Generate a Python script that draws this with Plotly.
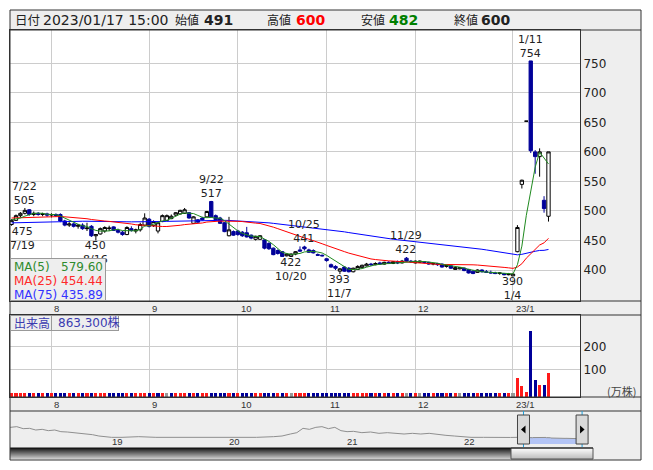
import pandas as pd
import plotly.graph_objects as go

W, H = 653, 470


def px(x):
    return x / W


def py(y):
    return 1 - y / H


FONT = "DejaVu Sans, Noto Sans CJK JP, sans-serif"
JP_FONT = "Noto Sans CJK JP, DejaVu Sans, sans-serif"
SMALL_FONT = "Liberation Sans, Arial, sans-serif"

# ---------------- data ----------------
HOLIDAYS = ['2022-04-29', '2022-05-03', '2022-05-04', '2022-05-05', '2022-07-18',
            '2022-08-11', '2022-09-19', '2022-09-23', '2022-10-10', '2022-11-03',
            '2022-11-23', '2023-01-02', '2023-01-03', '2023-01-09']


def trading_days(a, b):
    return [d for d in pd.bdate_range(a, b) if d.strftime('%Y-%m-%d') not in HOLIDAYS]


DATES = trading_days('2022-07-19', '2023-01-17')        # displayed window
PRE_DATES = trading_days('2022-03-29', '2022-07-15')    # sessions before the window (feed the averages)

OPEN = [477, 484, 492, 496, 502, 494, 496, 494, 495,
        493, 494, 494, 483, 476, 478, 474, 476, 470, 474, 458, 461, 466, 470, 473, 467, 464, 460, 470, 466, 468, 476,
        486, 475, 466, 482, 484, 487, 493, 495, 496, 497, 479, 485, 488, 490, 516, 492, 488, 480, 458, 465,
        466, 464, 463, 459, 452, 452, 451, 445, 437, 433, 431, 424, 423, 427, 434, 439, 434, 433, 426, 425,
        419, 409, 406, 398, 405, 403, 397, 401, 404, 407, 410, 409, 412, 410, 413, 411, 414, 412, 420, 415,
        412, 413, 414, 413, 410, 411, 410, 406, 407, 401, 402, 403, 401, 398, 396, 400, 397, 396, 395, 394, 394, 392,
        390, 431, 545, 652, 754, 600, 592, 518, 491]
HIGH = [486, 494, 498, 505, 503, 499, 498, 497, 497,
        496, 496, 496, 485, 481, 480, 478, 479, 480, 476, 461, 472, 474, 475, 474, 470, 466, 474, 474, 470, 480, 496,
        488, 484, 481, 494, 494, 494, 498, 502, 505, 498, 491, 486, 490, 500, 517, 494, 490, 481, 490, 467,
        468, 466, 473, 460, 458, 459, 452, 447, 438, 435, 432, 428, 428, 432, 440, 441, 436, 435, 428, 426,
        420, 411, 408, 403, 406, 405, 404, 408, 409, 412, 412, 413, 414, 414, 415, 415, 416, 417, 422, 417,
        416, 416, 415, 414, 412, 412, 411, 409, 408, 405, 405, 404, 402, 400, 401, 401, 400, 399, 397, 396, 395, 395,
        394, 476, 553, 652, 754, 603, 606, 525, 600]
LOW = [475, 483, 489, 494, 492, 491, 492, 491, 490,
       489, 490, 481, 474, 473, 472, 470, 468, 466, 456, 450, 460, 463, 466, 466, 462, 458, 459, 465, 462, 465, 474,
       472, 473, 462, 481, 483, 486, 491, 494, 495, 487, 478, 480, 484, 489, 489, 484, 478, 464, 457, 458,
       458, 456, 455, 452, 450, 451, 435, 434, 425, 426, 423, 423, 422, 425, 431, 433, 429, 428, 424, 423,
       414, 404, 400, 393, 397, 396, 396, 400, 403, 406, 407, 408, 409, 409, 410, 410, 410, 411, 414, 412,
       411, 412, 411, 409, 408, 407, 404, 404, 402, 400, 401, 398, 394, 393, 395, 396, 395, 394, 393, 392, 391, 391,
       390, 430, 538, 652, 598, 563, 558, 497, 482]
CLOSE = [484, 492, 496, 501, 494, 496, 494, 495, 493,
         494, 492, 483, 476, 478, 474, 476, 470, 471, 458, 460, 470, 472, 471, 467, 464, 460, 472, 467, 468, 477, 488,
         474, 482, 480, 492, 492, 491, 497, 501, 502, 488, 490, 481, 485, 499, 490, 485, 479, 465, 468, 459,
         460, 458, 456, 454, 457, 458, 437, 436, 426, 428, 423, 427, 427, 431, 432, 436, 430, 429, 425, 424,
         416, 405, 403, 402, 398, 397, 403, 406, 408, 410, 409, 411, 410, 413, 411, 414, 412, 415, 415, 414,
         415, 415, 413, 410, 411, 409, 405, 408, 403, 404, 404, 399, 395, 394, 400, 397, 396, 395, 394, 395, 392, 393,
         393, 472, 552, 652, 602, 592, 600, 504, 600]
# closes of the sessions before the window (level read from the navigator strip)
PRE_CLOSE = [478, 476, 479, 477, 475, 474, 476, 478, 475, 473, 472, 474, 476, 475, 473, 471, 472, 474, 476, 477,
             475, 473, 474,
             472, 471, 473, 475, 474, 472, 470, 471, 473, 474, 476, 477, 475, 476, 478, 477, 479, 478, 480,
             479, 478, 480, 481, 479, 478, 480, 482,
             484, 486, 485, 487, 489, 488, 486, 487, 489, 490, 491, 489, 488, 490, 492, 491, 489, 488, 490, 491,
             489, 487, 486, 485, 483]
# volume in 万株
VOLUME = [0.6, 0.9, 0.5, 1.0, 0.7, 0.4, 0.6, 0.5, 0.8,
          0.5, 0.7, 1.1, 0.9, 0.6, 0.5, 0.4, 0.7, 0.6, 0.9, 1.2, 0.8, 0.6, 0.5, 0.7, 0.6, 0.5, 0.9, 0.6, 0.4, 0.7, 1.0,
          0.8, 0.6, 0.9, 0.7, 0.5, 0.6, 0.7, 0.8, 0.6, 0.7, 0.9, 0.5, 0.4, 0.8, 1.3, 0.7, 0.6, 0.8, 0.7, 0.5,
          0.6, 0.5, 0.7, 0.6, 0.5, 0.4, 0.9, 0.7, 0.8, 0.6, 0.7, 0.5, 0.6, 0.7, 0.8, 0.9, 0.6, 0.5, 0.4, 0.5,
          0.6, 0.8, 0.7, 0.9, 0.6, 0.5, 0.6, 0.7, 0.5, 0.4, 0.5, 0.6, 0.5, 0.4, 0.5, 0.6, 0.5, 0.4, 0.8, 0.5,
          0.6, 0.5, 0.4, 0.5, 0.6, 0.5, 0.4, 0.6, 0.5, 0.5, 0.4, 0.6, 0.7, 0.5, 0.6, 0.5, 0.4, 0.5, 0.4, 0.5, 0.5, 0.4,
          1.2, 66.5, 30.0, 4.3, 270.0, 56.5, 35.0, 35.0, 86.33]

assert len(DATES) == len(OPEN) == len(HIGH) == len(LOW) == len(CLOSE) == len(VOLUME), \
    (len(DATES), len(OPEN), len(HIGH), len(LOW), len(CLOSE), len(VOLUME))
assert len(PRE_DATES) == len(PRE_CLOSE), (len(PRE_DATES), len(PRE_CLOSE))

MA_PERIODS = [5, 25, 75]
MA_COLORS = ['#1f8a1f', '#ff0000', '#0000ff']
MA_TEXT_COLORS = ['#2e8b2e', '#ff2a2a', '#3333ff']
MA_LAST = ['579.60', '454.44', '435.89']

PEAK_LABELS = [('2022-07-22', 'high'), ('2022-07-19', 'low'), ('2022-08-16', 'low'),
               ('2022-09-22', 'high'), ('2022-10-20', 'low'), ('2022-10-25', 'high'),
               ('2022-11-07', 'low'), ('2022-11-29', 'high'), ('2023-01-04', 'low'),
               ('2023-01-11', 'high')]

HEADER_DATE = '2023/01/17 15:00'
HEADER_FIELDS = [('始値', '491', '#222222'), ('高値', '600', '#ff0000'),
                 ('安値', '482', '#008000'), ('終値', '600', '#222222')]
VOLUME_TEXT = '863,300株'

# long-term history shown in the navigator strip
NAV_DATES = ['2018-02-24', '2018-03-08', '2018-03-28', '2018-04-17', '2018-05-07', '2018-05-26',
             '2018-06-15', '2018-07-04', '2018-07-24', '2018-08-12', '2018-09-01', '2018-09-21',
             '2018-10-10', '2018-10-30', '2018-11-18', '2018-12-08', '2018-12-27', '2019-01-16',
             '2019-02-18', '2019-04-11', '2019-06-03', '2019-07-25', '2019-09-15', '2019-11-06',
             '2019-12-28', '2020-02-18', '2020-04-11', '2020-06-03', '2020-06-29', '2020-07-25',
             '2020-08-14', '2020-09-02', '2020-09-22', '2020-10-12', '2020-10-31', '2020-11-20',
             '2020-12-10', '2020-12-29', '2021-01-17', '2021-02-06', '2021-03-04', '2021-03-31',
             '2021-04-26', '2021-05-22', '2021-06-17', '2021-07-13', '2021-08-08', '2021-09-03',
             '2021-09-29', '2021-10-25', '2021-11-20', '2021-12-16', '2022-01-11', '2022-02-06',
             '2022-03-17']
NAV_VALUES = [1316, 1218, 1267, 1121, 1145, 1023, 1072, 975, 1023, 902, 877, 828,
              780, 780, 682, 585, 536, 487, 487, 536, 487, 487, 487, 487,
              487, 439, 487, 536, 585, 731, 828, 1145, 1072, 1218, 1267, 1121,
              1218, 975, 902, 926, 828, 877, 780, 828, 780, 731, 780, 731,
              780, 682, 634, 585, 536, 487, 487]
YEAR_LABELS = [2019, 2020, 2021, 2022]

# ---------------- styling constants ----------------
UP_VOL = '#ff1a1a'
DOWN_VOL = '#000099'
FLAT_VOL = '#999999'
NAVY = '#000099'
GRID = '#cccccc'
EDGE = '#333333'
PANEL = '#eeeeee'

X_RANGE = [-0.35, 128.1]
PRICE_RANGE = [347.5, 806.4]
VOL_RANGE = [-17.4, 339.0]
NAV_RANGE_X = ['2018-03-07', '2023-07-19']
NAV_RANGE_Y = [-219, 2412]

idx = list(range(len(DATES)))
date_str = [d.strftime('%Y-%m-%d') for d in DATES]
pre_str = [d.strftime('%Y-%m-%d') for d in PRE_DATES]

month_idx, month_txt = [], []
for i, d in enumerate(DATES):
    if i > 0 and d.month != DATES[i - 1].month:
        month_idx.append(i)
        month_txt.append(f"{d.year % 100}/{d.month}" if d.month == 1 else str(d.month))

fig = go.Figure()

# price candles
fig.add_trace(go.Candlestick(
    x=idx, open=OPEN, high=HIGH, low=LOW, close=CLOSE,
    increasing=dict(line=dict(color='#000000', width=1), fillcolor='#ffffff'),
    decreasing=dict(line=dict(color=NAVY, width=1), fillcolor=NAVY),
    whiskerwidth=0, xaxis='x', yaxis='y', showlegend=False, hoverinfo='skip'))

all_close = pd.Series(PRE_CLOSE + CLOSE, dtype=float)
n_pre = len(PRE_CLOSE)
for n, col in sorted(zip(MA_PERIODS, MA_COLORS), key=lambda t: -t[0]):
    ma = all_close.rolling(n, min_periods=1).mean().iloc[n_pre:].tolist()
    fig.add_trace(go.Scatter(x=idx, y=ma, mode='lines',
                             line=dict(color=col, width=1), xaxis='x', yaxis='y',
                             showlegend=False, hoverinfo='skip'))

# volume
vol_colors = []
for i, c in enumerate(CLOSE):
    prev = CLOSE[i - 1] if i > 0 else PRE_CLOSE[-1]
    vol_colors.append(UP_VOL if c > prev else DOWN_VOL if c < prev else FLAT_VOL)
fig.add_trace(go.Bar(x=idx, y=[v - VOL_RANGE[0] for v in VOLUME], base=VOL_RANGE[0],
                     marker=dict(color=vol_colors, line=dict(width=0)), width=0.7,
                     xaxis='x2', yaxis='y2', showlegend=False, hoverinfo='skip'))

# navigator
fig.add_trace(go.Scatter(x=date_str, y=CLOSE, mode='lines', fill='tozeroy',
                         fillcolor='#b3c4f5', line=dict(width=0, color='#b3c4f5'),
                         xaxis='x3', yaxis='y3', showlegend=False, hoverinfo='skip'))
fig.add_trace(go.Scatter(x=NAV_DATES + pre_str + date_str, y=NAV_VALUES + PRE_CLOSE + CLOSE, mode='lines',
                         line=dict(color='#8f8f8f', width=1),
                         xaxis='x3', yaxis='y3', showlegend=False, hoverinfo='skip'))

# ---------------- shapes ----------------
shapes = []
shapes.append(dict(type='rect', xref='paper', yref='paper', x0=px(10), x1=px(641), y0=py(460), y1=py(10),
                   fillcolor=PANEL, line=dict(width=0), layer='below'))
for (a, b) in [(30, 301), (315, 397)]:
    shapes.append(dict(type='rect', xref='paper', yref='paper', x0=px(10), x1=px(580), y0=py(b), y1=py(a),
                       fillcolor='#ffffff', line=dict(width=0), layer='below'))
for yy in [30, 301, 315, 397, 411]:
    shapes.append(dict(type='line', xref='paper', yref='paper', x0=px(10), x1=px(641), y0=py(yy), y1=py(yy),
                       line=dict(color=EDGE, width=1), layer='above'))

# navigator selection lines and handles
for dstr in [date_str[0], date_str[-1]]:
    shapes.append(dict(type='line', xref='x3', yref='paper', x0=dstr, x1=dstr, y0=py(447), y1=py(411),
                       line=dict(color='#1ea0dc', width=1), layer='above'))
for k, dstr in enumerate([date_str[0], date_str[-1]]):
    shapes.append(dict(type='rect', xref='x3', yref='paper', xsizemode='pixel', xanchor=dstr,
                       x0=-6, x1=6, y0=py(444), y1=py(415), fillcolor='#d9d9d9',
                       line=dict(color='#444444', width=1), layer='above'))
    tri = 'M -2.5,0 L 2,4 L 2,-4 Z' if k == 0 else 'M 2.5,0 L -2,4 L -2,-4 Z'
    shapes.append(dict(type='path', xref='x3', yref='paper', xsizemode='pixel', ysizemode='pixel',
                       xanchor=dstr, yanchor=py(429.5), path=tri, fillcolor='#000000',
                       line=dict(width=0), layer='above'))

# scrollbar
for k in range(11):
    t = k / 10
    g = int(30 + t * (200 - 30))
    shapes.append(dict(type='rect', xref='paper', yref='paper', x0=px(10), x1=px(511),
                       y0=py(448 + k + 1), y1=py(448 + k), fillcolor=f'rgb({g},{g},{g})',
                       line=dict(width=0), layer='above'))
    g2 = int(252 - t * (252 - 190))
    shapes.append(dict(type='rect', xref='paper', yref='paper', x0=px(511), x1=px(593),
                       y0=py(448 + k + 1), y1=py(448 + k), fillcolor=f'rgb({g2},{g2},{g2})',
                       line=dict(width=0), layer='above'))
shapes.append(dict(type='rect', xref='paper', yref='paper', x0=px(511), x1=px(593), y0=py(459), y1=py(448),
                   line=dict(color='#555555', width=1), layer='above'))
shapes.append(dict(type='line', xref='paper', yref='paper', x0=px(10), x1=px(593), y0=py(448), y1=py(448),
                   line=dict(color='#111111', width=1), layer='above'))
# outer frame
shapes.append(dict(type='rect', xref='paper', yref='paper', x0=px(10), x1=px(641), y0=py(460), y1=py(10),
                   line=dict(color=EDGE, width=1), layer='above'))

# ---------------- annotations ----------------
ann = []


def text(x, y, s, size=12, color='#222222', family=FONT, xanchor='left', yanchor='middle', **kw):
    d = dict(x=x, y=y, xref='paper', yref='paper', text=s, showarrow=False, xanchor=xanchor,
             yanchor=yanchor, font=dict(size=size, color=color, family=family))
    d.update(kw)
    ann.append(d)


# header
text(px(12.5), py(20), '日付', size=12.5, family=JP_FONT)
text(px(41), py(20), HEADER_DATE, size=14)
head_x = [(173, 202), (265, 294), (359, 386.5), (451.5, 479.5)]
for (lab, val, col), (xl, xv) in zip(HEADER_FIELDS, head_x):
    text(px(xl), py(20), lab, size=12, family=JP_FONT)
    text(px(xv), py(20), f'<b>{val}</b>', size=14, color=col)

# month labels
for m, t in zip(month_idx, month_txt):
    for yy in (308, 404):
        ann.append(dict(x=m, y=py(yy), xref='x', yref='paper', text=t, showarrow=False,
                        xanchor='left', yanchor='middle', xshift=1,
                        font=dict(size=9.5, color='#333333', family=SMALL_FONT)))

# peak labels (date and price, two lines)
for dstr, kind in PEAK_LABELS:
    i = date_str.index(dstr)
    d = DATES[i]
    val = HIGH[i] if kind == 'high' else LOW[i]
    dtxt = f'{d.month}/{d.day}'
    xs = 11 if i == 0 else 0
    if kind == 'high':
        ann.append(dict(x=i, y=val, xref='x', yref='y', text=f'{dtxt}<br>{val}', showarrow=False,
                        xanchor='center', yanchor='bottom', yshift=0, xshift=xs, borderpad=0,
                        font=dict(size=11, color='#222222', family=FONT)))
    else:
        ann.append(dict(x=i, y=val, xref='x', yref='y', text=f'{val}<br>{dtxt}', showarrow=False,
                        xanchor='center', yanchor='top', yshift=2, xshift=xs, borderpad=0,
                        font=dict(size=11, color='#222222', family=FONT)))

# MA legend box
ann.append(dict(x=px(10), y=py(258), xref='paper', yref='paper', text=' ', showarrow=False,
                xanchor='left', yanchor='top', width=94, height=41, borderpad=0,
                bgcolor=PANEL, bordercolor='#999999', borderwidth=1))
for k, (n, col, val) in enumerate(zip(MA_PERIODS, MA_TEXT_COLORS, MA_LAST)):
    yy = 266.5 + 14 * k
    text(px(12), py(yy), f'MA({n})', size=12, color=col)
    text(px(105), py(yy), val, size=12, color=col, xanchor='right')

# volume label box
ann.append(dict(x=px(10), y=py(315), xref='paper', yref='paper', text=' ', showarrow=False,
                xanchor='left', yanchor='top', width=40, height=14, borderpad=0,
                bgcolor=PANEL, bordercolor='#999999', borderwidth=1))
ann.append(dict(x=px(50.5), y=py(315), xref='paper', yref='paper', text=' ', showarrow=False,
                xanchor='left', yanchor='top', width=66, height=14, borderpad=0,
                bgcolor=PANEL, bordercolor='#999999', borderwidth=1))
text(px(12), py(322.5), '出来高', size=12, color='#3b3bb0', family=JP_FONT)
text(px(56), py(322.5), VOLUME_TEXT, size=12, color='#3b3bb0')
text(px(621), py(391), '(万株)', size=11, color='#444444', xanchor='center', family=JP_FONT)

# navigator year labels
for yr in YEAR_LABELS:
    ann.append(dict(x=f'{yr}-01-01', y=py(441.5), xref='x3', yref='paper', text=str(yr % 100),
                    showarrow=False, xanchor='left', yanchor='middle', xshift=3,
                    font=dict(size=9.5, color='#333333', family=SMALL_FONT)))

axis_common = dict(zeroline=False, showline=True, mirror=True, linecolor=EDGE, linewidth=1, fixedrange=True)

fig.update_layout(
    width=W, height=H, margin=dict(l=0, r=0, t=0, b=0),
    paper_bgcolor='#ffffff', plot_bgcolor='rgba(0,0,0,0)',
    font=dict(family=FONT, size=12, color='#222222'),
    showlegend=False, bargap=0, boxgap=0.25, boxgroupgap=0,
    xaxis=dict(domain=[px(10), px(580)], range=X_RANGE, tickvals=month_idx, showticklabels=False,
               ticks='', showgrid=True, gridcolor=GRID, anchor='y',
               rangeslider=dict(visible=False), **axis_common),
    yaxis=dict(domain=[py(301), py(30)], range=PRICE_RANGE, tickvals=list(range(400, 800, 50)),
               side='right', ticks='', showgrid=True, gridcolor=GRID, anchor='x',
               tickfont=dict(size=12, color='#222222'), **axis_common),
    xaxis2=dict(domain=[px(10), px(580)], range=X_RANGE, tickvals=month_idx, showticklabels=False,
                ticks='', showgrid=True, gridcolor=GRID, anchor='y2', **axis_common),
    yaxis2=dict(domain=[py(397), py(315)], range=VOL_RANGE, tickvals=[100, 200],
                side='right', ticks='', showgrid=True, gridcolor=GRID, anchor='x2',
                tickfont=dict(size=12, color='#222222'), **axis_common),
    xaxis3=dict(domain=[px(10), px(641)], range=NAV_RANGE_X, type='date', visible=False,
                anchor='y3', fixedrange=True),
    yaxis3=dict(domain=[py(447), py(411)], range=NAV_RANGE_Y, visible=False, anchor='x3',
                fixedrange=True),
    shapes=shapes,
    annotations=ann,
)

fig.write_html('out.html', config={'displayModeBar': False},
               post_script="document.body.style.margin='0px';document.body.style.overflow='hidden';")
